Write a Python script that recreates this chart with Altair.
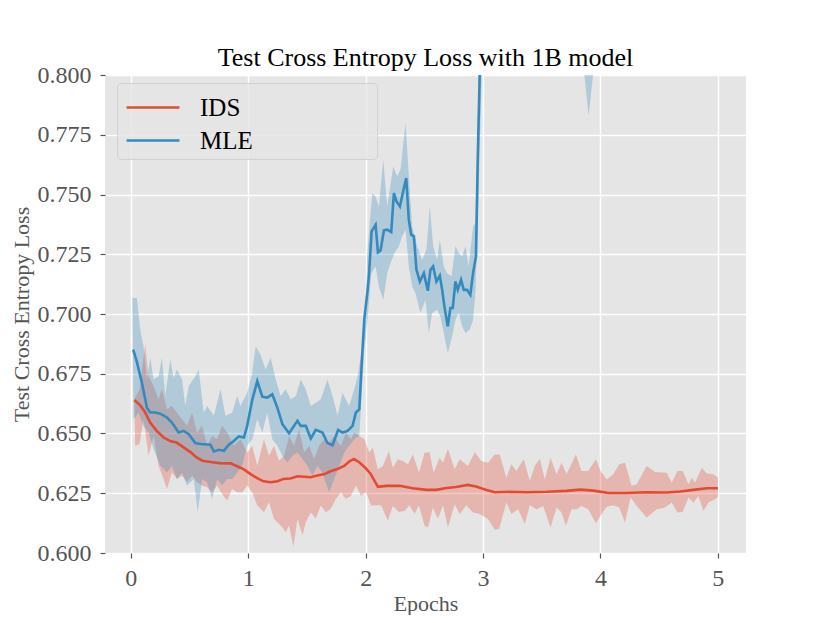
import altair as alt
import pandas as pd

series_names = ["IDS", "MLE"]
series_colors = ["#E24A33", "#348ABD"]

xtick_values = [0, 1, 2, 3, 4, 5]
ytick_values = [0.600, 0.625, 0.650, 0.675, 0.700, 0.725, 0.750, 0.775, 0.800]

# ---- IDS mean ----
ids_x = [0.03, 0.08, 0.12, 0.165, 0.22, 0.28, 0.34, 0.39, 0.45, 0.51,
         0.56, 0.61, 0.65, 0.71, 0.76, 0.85, 0.91, 0.96, 1.02, 1.08,
         1.13, 1.19, 1.25, 1.3, 1.36, 1.42, 1.48, 1.53, 1.59, 1.65,
         1.70, 1.76, 1.82, 1.86, 1.90, 1.946, 2.0, 2.04, 2.105, 2.175,
         2.29, 2.40, 2.52, 2.60, 2.69, 2.77, 2.87, 2.94, 3.03, 3.10,
         3.23, 3.37, 3.54, 3.71, 3.83, 3.94, 4.07, 4.22, 4.39, 4.56,
         4.68, 4.79, 4.91, 5.0]
ids_y = [0.6640, 0.6618, 0.6590, 0.6546, 0.6511, 0.6483, 0.6467, 0.6462, 0.6442, 0.6421,
         0.6400, 0.6386, 0.6383, 0.6379, 0.6376, 0.6375, 0.6362, 0.6351, 0.6330, 0.6312,
         0.6300, 0.6296, 0.6300, 0.6310, 0.6312, 0.6321, 0.6319, 0.6317, 0.6324, 0.6330,
         0.6342, 0.6351, 0.6365, 0.6383, 0.6393, 0.6380, 0.6355, 0.6333, 0.6277, 0.6281,
         0.6281, 0.6271, 0.6264, 0.6264, 0.6272, 0.6276, 0.6285, 0.6278, 0.6264, 0.6254,
         0.6256, 0.6254, 0.6256, 0.6260, 0.6265, 0.6261, 0.6251, 0.6251, 0.6254, 0.6253,
         0.6257, 0.6264, 0.6271, 0.6271]

# ---- IDS band ----
ids_up_x = [0.031, 0.074, 0.122, 0.151, 0.194, 0.236, 0.265, 0.308, 0.35, 0.393,
            0.436, 0.479, 0.521, 0.564, 0.607, 0.65, 0.692, 0.735, 0.778, 0.821,
            0.877, 0.934, 0.991, 1.034, 1.077, 1.134, 1.177, 1.219, 1.262, 1.305,
            1.348, 1.39, 1.433, 1.476, 1.519, 1.561, 1.604, 1.647, 1.689, 1.732,
            1.789, 1.832, 1.875, 1.903, 1.946, 1.989, 2.031, 2.061, 2.104, 2.147,
            2.198, 2.232, 2.275, 2.317, 2.36, 2.403, 2.454, 2.502, 2.545, 2.579,
            2.63, 2.659, 2.701, 2.758, 2.801, 2.872, 2.929, 2.986, 3.043, 3.1,
            3.142, 3.199, 3.242, 3.284, 3.347, 3.398, 3.441, 3.484, 3.526, 3.575,
            3.626, 3.669, 3.711, 3.791, 3.839, 3.896, 3.962, 4.001, 4.053, 4.109,
            4.161, 4.209, 4.266, 4.309, 4.394, 4.465, 4.565, 4.607, 4.656, 4.701,
            4.75, 4.778, 4.806, 4.863, 4.906, 4.963, 5.0]
ids_up_y = [0.6643, 0.6685, 0.6872, 0.6740, 0.6699, 0.6643, 0.6685, 0.6601, 0.6615, 0.6587,
            0.6560, 0.6532, 0.6587, 0.6504, 0.6532, 0.6449, 0.6490, 0.6476, 0.6532, 0.6504,
            0.6449, 0.6476, 0.6421, 0.6449, 0.6365, 0.6476, 0.6407, 0.6449, 0.6386, 0.6407,
            0.6490, 0.6449, 0.6518, 0.6421, 0.6449, 0.6393, 0.6449, 0.6476, 0.6462, 0.6490,
            0.6449, 0.6504, 0.6476, 0.6504, 0.6490, 0.6476, 0.6421, 0.6440, 0.6350, 0.6364,
            0.6426, 0.6357, 0.6392, 0.6385, 0.6371, 0.6412, 0.6336, 0.6419, 0.6422, 0.6336,
            0.6399, 0.6378, 0.6436, 0.6350, 0.6392, 0.6364, 0.6422, 0.6385, 0.6378, 0.6412,
            0.6412, 0.6315, 0.6371, 0.6343, 0.6392, 0.6301, 0.6364, 0.6394, 0.6308, 0.6399,
            0.6329, 0.6378, 0.6329, 0.6412, 0.6343, 0.6343, 0.6392, 0.6343, 0.6308, 0.6329,
            0.6371, 0.6378, 0.6281, 0.6288, 0.6364, 0.6339, 0.6336, 0.6294, 0.6343, 0.6343,
            0.6288, 0.6315, 0.6294, 0.6357, 0.6333, 0.6329, 0.6315]
ids_lo_x = [0.037, 0.074, 0.108, 0.151, 0.194, 0.236, 0.279, 0.308, 0.35, 0.393,
            0.436, 0.479, 0.521, 0.564, 0.607, 0.65, 0.692, 0.735, 0.778, 0.821,
            0.863, 0.906, 0.949, 0.991, 1.034, 1.077, 1.134, 1.177, 1.219, 1.276,
            1.319, 1.348, 1.385, 1.419, 1.462, 1.49, 1.533, 1.575, 1.618, 1.661,
            1.704, 1.746, 1.789, 1.832, 1.875, 1.917, 1.96, 2.003, 2.046, 2.132,
            2.189, 2.232, 2.283, 2.331, 2.374, 2.417, 2.454, 2.502, 2.531, 2.573,
            2.616, 2.659, 2.701, 2.758, 2.801, 2.858, 2.915, 2.972, 3.043, 3.1,
            3.137, 3.199, 3.242, 3.299, 3.356, 3.398, 3.455, 3.512, 3.575, 3.626,
            3.669, 3.706, 3.754, 3.797, 3.839, 3.896, 3.962, 4.01, 4.053, 4.109,
            4.161, 4.209, 4.257, 4.309, 4.394, 4.479, 4.55, 4.607, 4.656, 4.701,
            4.75, 4.792, 4.835, 4.877, 4.92, 4.977, 5.0]
ids_lo_y = [0.6449, 0.6456, 0.6560, 0.6407, 0.6490, 0.6365, 0.6310, 0.6268, 0.6337, 0.6310,
            0.6324, 0.6296, 0.6324, 0.6296, 0.6282, 0.6275, 0.6254, 0.6282, 0.6247, 0.6220,
            0.6268, 0.6254, 0.6254, 0.6282, 0.6254, 0.6199, 0.6171, 0.6212, 0.6143, 0.6115,
            0.6087, 0.6115, 0.6025, 0.6143, 0.6074, 0.6129, 0.6171, 0.6143, 0.6199, 0.6171,
            0.6185, 0.6226, 0.6254, 0.6226, 0.6240, 0.6282, 0.6240, 0.6254, 0.6199, 0.6200,
            0.6135, 0.6197, 0.6172, 0.6176, 0.6200, 0.6163, 0.6200, 0.6114, 0.6107, 0.6190,
            0.6142, 0.6200, 0.6107, 0.6204, 0.6163, 0.6200, 0.6169, 0.6163, 0.6142, 0.6097,
            0.6100, 0.6211, 0.6163, 0.6183, 0.6121, 0.6200, 0.6183, 0.6197, 0.6107, 0.6190,
            0.6169, 0.6114, 0.6183, 0.6183, 0.6197, 0.6183, 0.6125, 0.6163, 0.6194, 0.6200,
            0.6190, 0.6128, 0.6232, 0.6197, 0.6149, 0.6183, 0.6190, 0.6211, 0.6169, 0.6172,
            0.6232, 0.6211, 0.6239, 0.6176, 0.6211, 0.6225, 0.6232]

# ---- MLE mean ----
mle_x = [0.02, 0.05, 0.094, 0.137, 0.165, 0.208, 0.25, 0.308, 0.35, 0.407,
         0.45, 0.493, 0.55, 0.593, 0.678, 0.707, 0.749, 0.792, 0.835, 0.877,
         0.92, 0.963, 0.991, 1.034, 1.077, 1.12, 1.162, 1.205, 1.248, 1.291,
         1.348, 1.39, 1.419, 1.447, 1.49, 1.533, 1.575, 1.632, 1.675, 1.718,
         1.766, 1.803, 1.846, 1.889, 1.917, 1.946, 1.972, 1.989, 2.014, 2.028,
         2.051, 2.085, 2.105, 2.127, 2.156, 2.184, 2.218, 2.241, 2.263, 2.292,
         2.326, 2.346, 2.368, 2.388, 2.411, 2.433, 2.462, 2.482, 2.496, 2.53,
         2.552, 2.575, 2.603, 2.632, 2.652, 2.671, 2.7, 2.722, 2.742, 2.765,
         2.785, 2.813, 2.836, 2.864, 2.892, 2.915, 2.94, 2.955, 2.972, 3.0,
         3.3, 3.6, 3.9, 4.2, 4.6, 5.0]
mle_y = [0.6851, 0.6803, 0.6713, 0.6608, 0.6588, 0.6588, 0.6583, 0.6567, 0.6546, 0.6504,
         0.6511, 0.6497, 0.6460, 0.6456, 0.6453, 0.6425, 0.6432, 0.6428, 0.6453, 0.6469,
         0.6488, 0.6483, 0.6532, 0.6640, 0.6719, 0.6654, 0.6650, 0.6664, 0.6608, 0.6539,
         0.6501, 0.6532, 0.6553, 0.6532, 0.6532, 0.6479, 0.6515, 0.6504, 0.6460, 0.6451,
         0.6515, 0.6504, 0.6511, 0.6532, 0.6588, 0.6601, 0.6840, 0.6980, 0.7087, 0.7157,
         0.7346, 0.7373, 0.7258, 0.7266, 0.7350, 0.7353, 0.7343, 0.7506, 0.7471, 0.7450,
         0.7527, 0.7569, 0.7394, 0.7332, 0.7325, 0.7185, 0.7136, 0.7157, 0.7171, 0.7097,
         0.7185, 0.7199, 0.7136, 0.7160, 0.7101, 0.7032, 0.6948, 0.7025, 0.7025, 0.7136,
         0.7101, 0.7143, 0.7101, 0.7101, 0.7080, 0.7171, 0.7241, 0.7645, 0.8008, 0.8400,
         0.8700, 0.8600, 0.8400, 0.8700, 0.8800, 0.8800]

# ---- MLE band ----
mle_up_x = [0.014, 0.051, 0.08, 0.108, 0.137, 0.165, 0.194, 0.236, 0.265, 0.293,
            0.336, 0.365, 0.393, 0.436, 0.464, 0.493, 0.55, 0.578, 0.621, 0.65,
            0.707, 0.764, 0.806, 0.863, 0.906, 0.934, 0.991, 1.034, 1.063, 1.105,
            1.148, 1.191, 1.234, 1.276, 1.319, 1.362, 1.405, 1.447, 1.49, 1.533,
            1.575, 1.618, 1.675, 1.718, 1.761, 1.803, 1.86, 1.903, 1.932, 1.974,
            2.003, 2.014, 2.057, 2.085, 2.113, 2.15, 2.184, 2.235, 2.269, 2.297,
            2.34, 2.368, 2.397, 2.439, 2.482, 2.518, 2.547, 2.575, 2.609, 2.632,
            2.666, 2.694, 2.731, 2.765, 2.793, 2.822, 2.85, 2.878, 2.915, 2.935,
            2.949, 2.963, 3.0, 5.0]
mle_up_y = [0.7067, 0.7067, 0.6935, 0.6865, 0.6726, 0.6817, 0.6726, 0.6740, 0.6817, 0.6657,
            0.6810, 0.6733, 0.6768, 0.6726, 0.6615, 0.6699, 0.6740, 0.6768, 0.6587, 0.6615,
            0.6574, 0.6685, 0.6574, 0.6587, 0.6657, 0.6615, 0.6671, 0.6754, 0.6865, 0.6830,
            0.6768, 0.6817, 0.6726, 0.6657, 0.6685, 0.6643, 0.6657, 0.6726, 0.6685, 0.6615,
            0.6629, 0.6643, 0.6726, 0.6657, 0.6574, 0.6671, 0.6615, 0.6685, 0.6740, 0.6865,
            0.7074, 0.7255, 0.7506, 0.7492, 0.7450, 0.7645, 0.7450, 0.7617, 0.7576, 0.7604,
            0.7799, 0.7576, 0.7366, 0.7283, 0.7227, 0.7269, 0.7450, 0.7283, 0.7227, 0.7311,
            0.7199, 0.7171, 0.7157, 0.7283, 0.7255, 0.7241, 0.7283, 0.7199, 0.7366, 0.7380,
            0.7645, 0.8000, 0.9000, 0.9200]
mle_lo_x = [0.023, 0.066, 0.108, 0.151, 0.194, 0.251, 0.308, 0.35, 0.393, 0.436,
            0.479, 0.536, 0.57, 0.607, 0.65, 0.692, 0.735, 0.778, 0.821, 0.863,
            0.906, 0.949, 0.991, 1.034, 1.077, 1.12, 1.162, 1.205, 1.248, 1.291,
            1.333, 1.376, 1.419, 1.462, 1.504, 1.547, 1.59, 1.632, 1.689, 1.732,
            1.775, 1.818, 1.86, 1.903, 1.946, 1.986, 2.014, 2.048, 2.085, 2.113,
            2.15, 2.184, 2.212, 2.246, 2.283, 2.311, 2.34, 2.368, 2.397, 2.425,
            2.467, 2.51, 2.538, 2.567, 2.609, 2.637, 2.666, 2.7, 2.737, 2.765,
            2.793, 2.822, 2.85, 2.887, 2.915, 2.935, 2.955, 2.977, 3.0, 3.3,
            3.6, 3.85, 3.9, 3.95, 4.2, 4.6, 5.0]
mle_lo_y = [0.6560, 0.6587, 0.6532, 0.6504, 0.6435, 0.6365, 0.6337, 0.6365, 0.6310, 0.6337,
            0.6282, 0.6310, 0.6171, 0.6310, 0.6296, 0.6226, 0.6310, 0.6282, 0.6310, 0.6310,
            0.6337, 0.6365, 0.6449, 0.6476, 0.6560, 0.6504, 0.6587, 0.6476, 0.6449, 0.6407,
            0.6379, 0.6407, 0.6421, 0.6393, 0.6365, 0.6324, 0.6365, 0.6337, 0.6254, 0.6310,
            0.6365, 0.6421, 0.6449, 0.6476, 0.6490, 0.6836, 0.6962, 0.7171, 0.7199, 0.7115,
            0.7060, 0.7171, 0.7213, 0.7255, 0.7283, 0.7325, 0.7353, 0.7199, 0.7115, 0.7087,
            0.7004, 0.7060, 0.6920, 0.7004, 0.7018, 0.6990, 0.6920, 0.6836, 0.6906, 0.6976,
            0.7004, 0.6948, 0.6920, 0.6934, 0.6976, 0.7087, 0.7366, 0.7785, 0.8200, 0.8500,
            0.8400, 0.8060, 0.7830, 0.8060, 0.8500, 0.8600, 0.8600]

FONT = "Liberation Serif"

x_scale = alt.Scale(domain=[-0.22, 5.24], nice=False, zero=False)
y_scale = alt.Scale(domain=[0.6, 0.8], nice=False, zero=False)

x_axis = alt.Axis(values=xtick_values, format="d", title="Epochs",
                  titleX=320.5, titleY=57, titleAlign="center",
                  titleBaseline="alphabetic", labelPadding=8)
y_axis = alt.Axis(values=ytick_values, format=".3f",
                  title="Test Cross Entropy Loss",
                  titleX=-77, titleY=239, titleAngle=270,
                  titleAlign="center", titleBaseline="alphabetic", labelPadding=9)


def enc_x():
    return alt.X("x:Q", scale=x_scale, axis=x_axis)


def enc_y():
    return alt.Y("y:Q", scale=y_scale, axis=y_axis)


def band(up_x, up_y, lo_x, lo_y, color):
    px = list(up_x) + list(lo_x)[::-1]
    py = list(up_y) + list(lo_y)[::-1]
    df = pd.DataFrame({"x": px, "y": py, "i": list(range(len(px)))})
    return alt.Chart(df).mark_line(clip=True, interpolate="linear").encode(
        x=enc_x(), y=enc_y(), order="i:Q",
        fill=alt.value(color), fillOpacity=alt.value(0.3),
        stroke=alt.value(color), strokeOpacity=alt.value(0),
    )


ids_band = band(ids_up_x, ids_up_y, ids_lo_x, ids_lo_y, series_colors[0])
mle_band = band(mle_up_x, mle_up_y, mle_lo_x, mle_lo_y, series_colors[1])

lines_df = pd.concat([
    pd.DataFrame({"x": ids_x, "y": ids_y, "series": series_names[0]}),
    pd.DataFrame({"x": mle_x, "y": mle_y, "series": series_names[1]}),
])

# trailing no-break spaces (kept by a zero-width space) widen the legend frame
pad_label = "\u00a0" * 19 + "\u200b"
legend = alt.Legend(
    title=None, orient="none", legendX=12, legendY=8,
    fillColor="rgba(229,229,229,0.8)", strokeColor="rgba(204,204,204,0.8)",
    cornerRadius=4, padding=5,
    symbolType="M-0.83,0H2.11", symbolSize=1296, symbolStrokeWidth=2.6,
    labelFont=FONT, labelFontSize=25, labelColor="black", labelOffset=39,
    labelLimit=500, rowPadding=0,
    labelExpr="datum.label + '" + pad_label + "'",
)

lines = alt.Chart(lines_df).mark_line(clip=True, strokeWidth=2.6).encode(
    x=enc_x(), y=enc_y(),
    color=alt.Color("series:N",
                    scale=alt.Scale(domain=series_names, range=series_colors),
                    legend=legend),
)

chart = alt.layer(ids_band, mle_band, lines).properties(
    width=641, height=478,
    background="white",
    title=alt.TitleParams("Test Cross Entropy Loss with 1B model",
                          font=FONT, fontSize=26, fontWeight="normal",
                          color="black", anchor="middle", frame="group",
                          baseline="alphabetic", offset=9, dy=38),
    autosize=alt.AutoSizeParams(type="none"),
    padding={"left": 97, "top": 67, "right": 76, "bottom": 62},
).configure_view(
    fill="#E5E5E5", strokeWidth=0,
).configure_axis(
    grid=True, gridColor="white", gridWidth=1.5, domain=False,
    tickColor="#555555", tickSize=5, tickWidth=1.2,
    labelFont=FONT, labelFontSize=24, labelColor="#555555",
    titleFont=FONT, titleFontSize=22, titleColor="#555555",
    titleFontWeight="normal",
)

chart.save("out.html", embed_options={"renderer": "svg", "actions": False})
